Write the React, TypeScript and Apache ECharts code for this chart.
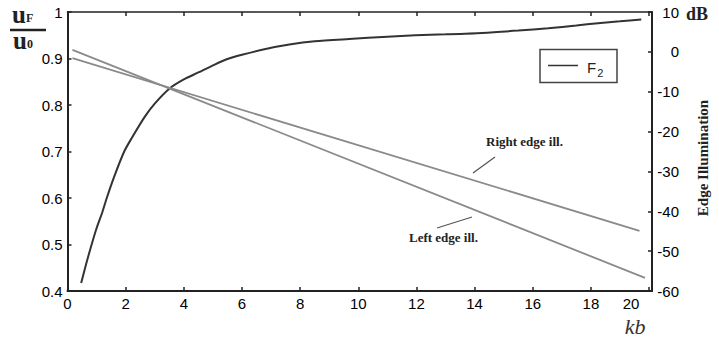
import React, { useEffect, useRef } from "react";
import * as echarts from "echarts";

// F2 curve (left axis)
const f2Kb = [0.47, 0.65, 0.83, 1.0, 1.2, 1.35, 1.6, 1.95, 2.2, 2.66, 3.0, 3.52, 4.0, 4.5, 5.06, 5.5, 6.0, 6.77, 7.63, 8.5, 9.68, 11.0, 11.96, 13.0, 14.25, 15.5, 16.53, 17.5, 18.24, 19.0, 19.73];
const f2Val = [0.417, 0.46, 0.5, 0.535, 0.57, 0.6, 0.645, 0.7, 0.728, 0.775, 0.803, 0.836, 0.855, 0.87, 0.887, 0.899, 0.908, 0.92, 0.93, 0.937, 0.942, 0.947, 0.95, 0.952, 0.955, 0.96, 0.965, 0.971, 0.976, 0.98, 0.984];

// Edge illumination lines (right axis, dB)
const rightEdgeKb = [0.17, 19.67];
const rightEdgeDb = [-1.6, -44.9];
const leftEdgeKb = [0.17, 19.86];
const leftEdgeDb = [0.5, -56.7];

// Axes
const xMin = 0;
const xMax = 20.1;
const xStep = 2;
const yLeftMin = 0.4;
const yLeftMax = 1;
const yLeftStep = 0.1;
const yRightMin = -60;
const yRightMax = 10;
const yRightStep = 10;

const AX = "#222";
const SANS = "'Liberation Sans', Arial, sans-serif";
const SERIF = "'Liberation Serif', 'Times New Roman', serif";

export default function App() {
  const ref = useRef<HTMLDivElement>(null);
  useEffect(() => {
    document.body.style.margin = "0";
    if (!ref.current) return;
    const chart = echarts.init(ref.current, undefined, { renderer: "svg" });
    const labelStyle = { color: "#000", fontFamily: SANS, fontSize: 15 };
    chart.setOption({
      animation: false,
      backgroundColor: "#fff",
      grid: { left: 67.5, right: 67, top: 12, bottom: 52 },
      xAxis: [
        {
          type: "value",
          min: xMin,
          max: xMax,
          interval: xStep,
          axisLine: { show: true, onZero: false, lineStyle: { color: AX, width: 2 } },
          axisTick: { show: true, inside: true, length: 4, lineStyle: { color: AX, width: 1.5 } },
          splitLine: { show: false },
          axisLabel: {
            ...labelStyle,
            margin: 5,
            formatter: (v: number) => {
              const k = v / xStep;
              if (Math.abs(k - Math.round(k)) > 1e-6) return "";
              if (v === 20) return "{s|20}";
              return String(v);
            },
            rich: { s: { ...labelStyle, padding: [0, 36, 0, 0] } },
          },
        },
        {
          type: "value",
          position: "top",
          min: xMin,
          max: xMax,
          interval: xStep,
          axisLine: { show: true, onZero: false, lineStyle: { color: AX, width: 1.5 } },
          axisTick: { show: true, inside: true, length: 4, lineStyle: { color: AX, width: 1.5 } },
          axisLabel: { show: false },
          splitLine: { show: false },
        },
      ],
      yAxis: [
        {
          type: "value",
          min: yLeftMin,
          max: yLeftMax,
          interval: yLeftStep,
          axisLine: { show: true, onZero: false, lineStyle: { color: AX, width: 2 } },
          axisTick: { show: true, inside: true, length: 4, lineStyle: { color: AX, width: 1.5 } },
          splitLine: { show: false },
          axisLabel: {
            ...labelStyle,
            margin: 5,
            formatter: (v: number) => (Math.abs(v - 1) < 1e-9 ? "1" : v.toFixed(1)),
          },
        },
        {
          type: "value",
          position: "right",
          min: yRightMin,
          max: yRightMax,
          interval: yRightStep,
          axisLine: { show: true, onZero: false, lineStyle: { color: AX, width: 2 } },
          axisTick: { show: true, inside: true, length: 4, lineStyle: { color: AX, width: 1.5 } },
          splitLine: { show: false },
          axisLabel: { ...labelStyle, align: "right", margin: 27 },
        },
      ],
      series: [
        {
          name: "F2",
          type: "line",
          xAxisIndex: 0,
          yAxisIndex: 0,
          data: f2Kb.map((k, i) => [k, f2Val[i]]),
          showSymbol: false,
          smooth: 0.25,
          lineStyle: { color: "#333", width: 2 },
          z: 3,
        },
        {
          name: "Right edge ill.",
          type: "line",
          xAxisIndex: 0,
          yAxisIndex: 1,
          data: rightEdgeKb.map((k, i) => [k, rightEdgeDb[i]]),
          showSymbol: false,
          lineStyle: { color: "#8a8a8a", width: 1.8 },
        },
        {
          name: "Left edge ill.",
          type: "line",
          xAxisIndex: 0,
          yAxisIndex: 1,
          data: leftEdgeKb.map((k, i) => [k, leftEdgeDb[i]]),
          showSymbol: false,
          lineStyle: { color: "#8a8a8a", width: 1.8 },
        },
      ],
      graphic: [
        {
          type: "text",
          x: 12,
          y: 2,
          style: {
            text: "{u|u}{f|F}",
            rich: {
              u: { fontFamily: SERIF, fontWeight: "bold", fontSize: 25, fill: "#222" },
              f: { fontFamily: SERIF, fontWeight: "bold", fontSize: 12, fill: "#222", padding: [6, 0, 0, 0] },
            },
          },
        },
        { type: "line", shape: { x1: 10, y1: 30, x2: 46, y2: 30 }, style: { stroke: "#222", lineWidth: 2.5 } },
        {
          type: "text",
          x: 13,
          y: 28,
          style: {
            text: "{u|u}{f|0}",
            rich: {
              u: { fontFamily: SERIF, fontWeight: "bold", fontSize: 25, fill: "#222" },
              f: { fontFamily: SERIF, fontWeight: "bold", fontSize: 12, fill: "#222", padding: [6, 0, 0, 0] },
            },
          },
        },
        {
          type: "text",
          x: 686,
          y: 5,
          style: { text: "dB", fontFamily: SERIF, fontWeight: "bold", fontSize: 18, fill: "#222" },
        },
        {
          type: "text",
          x: 703,
          y: 158,
          rotation: Math.PI / 2,
          style: {
            text: "Edge Illumination",
            fontFamily: SERIF,
            fontWeight: "bold",
            fontSize: 15,
            fill: "#222",
            align: "center",
            verticalAlign: "middle",
          },
        },
        {
          type: "text",
          x: 635,
          y: 326,
          style: {
            text: "kb",
            fontFamily: SERIF,
            fontStyle: "italic",
            fontSize: 22,
            fill: "#333",
            align: "center",
            verticalAlign: "middle",
          },
        },
        {
          type: "text",
          x: 486,
          y: 141,
          style: { text: "Right edge ill.", fontFamily: SERIF, fontWeight: "bold", fontSize: 13, fill: "#222", verticalAlign: "middle" },
        },
        { type: "line", shape: { x1: 473, y1: 173, x2: 495, y2: 157 }, style: { stroke: "#555", lineWidth: 1.2 } },
        {
          type: "text",
          x: 409,
          y: 237,
          style: { text: "Left edge ill.", fontFamily: SERIF, fontWeight: "bold", fontSize: 13, fill: "#222", verticalAlign: "middle" },
        },
        { type: "line", shape: { x1: 437, y1: 228, x2: 472, y2: 217 }, style: { stroke: "#555", lineWidth: 1.2 } },
        {
          type: "rect",
          shape: { x: 540, y: 49.5, width: 77, height: 33 },
          style: { fill: "#fff", stroke: "#444", lineWidth: 1.5 },
          z: 10,
        },
        { type: "line", shape: { x1: 548, y1: 65.5, x2: 578, y2: 65.5 }, style: { stroke: "#333", lineWidth: 1.5 }, z: 11 },
        {
          type: "text",
          x: 587,
          y: 57,
          z: 11,
          style: {
            text: "{f|F}{s|2}",
            rich: {
              f: { fontFamily: SANS, fontSize: 15, fill: "#222" },
              s: { fontFamily: SANS, fontSize: 11, fill: "#222", padding: [10, 0, 0, 1] },
            },
          },
        },
      ],
    });
    return () => chart.dispose();
  }, []);
  return <div ref={ref} style={{ width: 719, height: 343 }} />;
}
